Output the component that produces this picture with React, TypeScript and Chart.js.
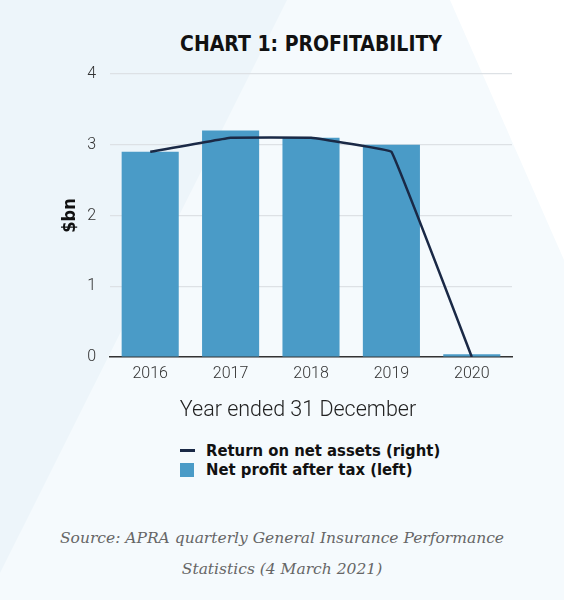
import React, { useEffect, useRef } from "react";
import { Chart, registerables } from "chart.js";

Chart.register(...registerables);

const years = ["2016", "2017", "2018", "2019", "2020"];
const netProfit = [2.9, 3.2, 3.1, 3.0, 0.04];
const returnOnAssets = [2.9, 3.1, 3.1, 2.9, 0];
const yTicks = [0, 1, 2, 3, 4];

const barColor = "#4a9bc7";
const lineColor = "#1a2946";

export default function App() {
  const canvasRef = useRef<HTMLCanvasElement | null>(null);
  const chartRef = useRef<Chart | null>(null);

  useEffect(() => {
    const canvas = canvasRef.current;
    if (!canvas) return;
    if (chartRef.current) chartRef.current.destroy();

    chartRef.current = new Chart(canvas, {
      type: "bar",
      data: {
        labels: years,
        datasets: [
          {
            type: "line",
            label: "Return on net assets (right)",
            data: returnOnAssets,
            yAxisID: "y1",
            borderColor: lineColor,
            borderWidth: 2.5,
            borderJoinStyle: "round",
            pointRadius: 0,
            tension: 0.04,
            order: 0,
          },
          {
            type: "bar",
            label: "Net profit after tax (left)",
            data: netProfit,
            yAxisID: "y",
            backgroundColor: barColor,
            categoryPercentage: 1,
            barPercentage: 0.71,
            order: 1,
          },
        ],
      },
      options: {
        animation: false,
        responsive: false,
        layout: { padding: { left: 0, right: 52, top: 54, bottom: 0 } },
        plugins: {
          legend: { display: false },
          tooltip: { enabled: false },
          title: { display: false },
        },
        scales: {
          x: {
            grid: { display: false, drawTicks: false },
            border: { display: true, color: "#333", width: 1.5 },
            ticks: {
              color: "#333",
              padding: 7,
              font: { family: "Roboto", size: 16, weight: 300 },
            },
            afterFit: (scale: any) => {
              scale.height = 73;
            },
          },
          y: {
            min: 0,
            max: 4,
            afterBuildTicks: (scale: any) => {
              scale.ticks = yTicks.map((v) => ({ value: v }));
            },
            grid: { color: "#dde1e5", lineWidth: 1.2, drawTicks: false },
            border: { display: false },
            ticks: {
              color: "#333",
              padding: 14,
              font: { family: "Roboto", size: 16, weight: 300 },
            },
            title: {
              display: true,
              text: "$bn",
              color: "#111",
              padding: { top: 60, bottom: 0 },
              font: { family: "DejaVu Sans Condensed", size: 18, weight: "bold" },
            },
            afterFit: (scale: any) => {
              scale.width = 110;
            },
          },
          y1: {
            display: false,
            position: "right",
            min: 0,
            max: 4,
          },
        },
      },
    });

    return () => {
      if (chartRef.current) chartRef.current.destroy();
      chartRef.current = null;
    };
  }, []);

  return (
    <div
      style={{
        position: "absolute",
        left: 0,
        top: 0,
        width: 564,
        height: 600,
        overflow: "hidden",
        background: "#f5fafd",
      }}
    >
      <div
        style={{
          position: "absolute",
          inset: 0,
          background: "#edf5fa",
          clipPath: "polygon(0 0, 287px 0, 0 573px)",
        }}
      />
      <div
        style={{
          position: "absolute",
          inset: 0,
          background: "#ffffff",
          clipPath: "polygon(450px 0, 564px 0, 564px 260px)",
        }}
      />
      <div
        style={{
          position: "absolute",
          left: 0,
          top: 31,
          width: 564,
          textAlign: "center",
          paddingLeft: 58,
          boxSizing: "border-box",
          fontFamily: "DejaVu Sans Condensed",
          fontWeight: "bold",
          fontSize: 21,
          color: "#111",
          lineHeight: "26px",
        }}
      >
        CHART 1: PROFITABILITY
      </div>
      <div style={{ position: "absolute", left: 0, top: 20, width: 564, height: 410 }}>
        <canvas ref={canvasRef} width={564} height={410} />
      </div>
      <div
        style={{
          position: "absolute",
          left: 0,
          top: 396,
          width: 596,
          textAlign: "center",
          fontFamily: "Roboto",
          fontWeight: 300,
          fontSize: 21.5,
          color: "#222",
          lineHeight: "26px",
        }}
      >
        Year ended 31 December
      </div>
      <div
        style={{
          position: "absolute",
          left: 180,
          top: 441,
          fontFamily: "DejaVu Sans Condensed",
          fontWeight: "bold",
          fontSize: 16.5,
          color: "#111",
          lineHeight: "19px",
        }}
      >
        <div style={{ display: "flex", alignItems: "center" }}>
          <span
            style={{
              display: "inline-block",
              width: 15,
              height: 3,
              background: lineColor,
              marginRight: 11,
            }}
          />
          Return on net assets (right)
        </div>
        <div style={{ display: "flex", alignItems: "center" }}>
          <span
            style={{
              display: "inline-block",
              width: 14,
              height: 14,
              background: barColor,
              marginRight: 12,
            }}
          />
          Net profit after tax (left)
        </div>
      </div>
      <div
        style={{
          position: "absolute",
          left: 0,
          top: 523,
          width: 564,
          textAlign: "center",
          fontFamily: "DejaVu Serif",
          fontStyle: "italic",
          fontSize: 15.5,
          color: "#666",
          lineHeight: "31px",
        }}
      >
        Source: APRA quarterly General Insurance Performance
        <br />
        Statistics (4 March 2021)
      </div>
    </div>
  );
}
